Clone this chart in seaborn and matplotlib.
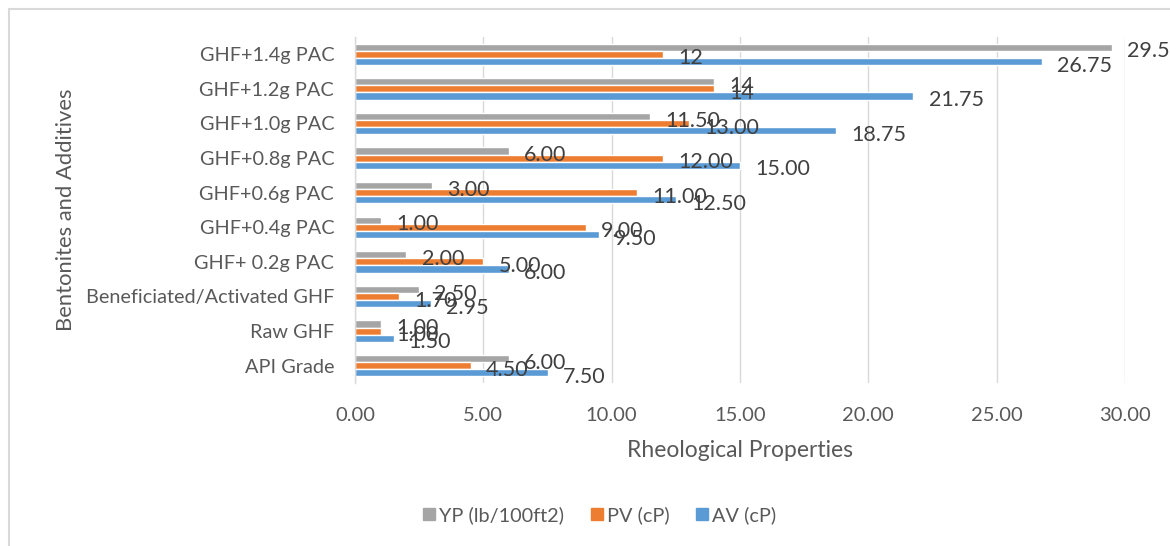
import matplotlib
matplotlib.use("Agg")
import matplotlib.pyplot as plt
import seaborn as sns
import pandas as pd
from matplotlib.lines import Line2D

categories = ["GHF+1.4g PAC", "GHF+1.2g PAC", "GHF+1.0g PAC", "GHF+0.8g PAC",
              "GHF+0.6g PAC", "GHF+0.4g PAC", "GHF+ 0.2g PAC",
              "Beneficiated/Activated GHF", "Raw GHF", "API Grade"]
series = ["YP (lb/100ft2)", "PV (cP)", "AV (cP)"]
yp = [29.5, 14, 11.5, 6, 3, 1, 2, 2.5, 1, 6]
pv = [12, 14, 13, 12, 11, 9, 5, 1.7, 1, 4.5]
av = [26.75, 21.75, 18.75, 15, 12.5, 9.5, 6, 2.95, 1.5, 7.5]
yp_labels = ["29.5", "14", "11.50", "6.00", "3.00", "1.00", "2.00", "2.50", "1.00", "6.00"]
pv_labels = ["12", "14", "13.00", "12.00", "11.00", "9.00", "5.00", "1.70", "1.00", "4.50"]
av_labels = ["26.75", "21.75", "18.75", "15.00", "12.50", "9.50", "6.00", "2.95", "1.50", "7.50"]
xticks = [0, 5, 10, 15, 20, 25, 30]

colors = {"YP (lb/100ft2)": "#A5A5A5", "PV (cP)": "#ED7D31", "AV (cP)": "#5B9BD5"}

df = pd.DataFrame({
    "Category": categories * 3,
    "Series": [series[0]] * 10 + [series[1]] * 10 + [series[2]] * 10,
    "Value": yp + pv + av,
})

sns.set_theme(style="white")
plt.rcParams["font.family"] = ["Lato", "DejaVu Sans"]
text_color = "#595959"

fig = plt.figure(figsize=(11.7, 5.46), dpi=100)
ax = fig.add_axes([355 / 1170, 1 - 383 / 546, (1125 - 355) / 1170, (383 - 37) / 546])

sns.barplot(data=df, y="Category", x="Value", hue="Series", order=categories,
            hue_order=series, palette=colors, orient="h", width=0.62,
            ax=ax, legend=False, saturation=1, errorbar=None)

all_labels = [yp_labels, pv_labels, av_labels]
for cont, labs in zip(ax.containers, all_labels):
    anns = ax.bar_label(cont, labels=labs, padding=11, fontsize=15.5, color="#404040")
    for a in anns:
        a.xyann = (a.xyann[0], -3)

ax.set_xlim(0, 30)
ax.set_xticks(xticks)
ax.set_xticklabels([f"{t:.2f}" for t in xticks])
ax.grid(axis="x", color="#D9D9D9", linewidth=1)
ax.set_axisbelow(True)
for s in ["top", "right", "bottom"]:
    ax.spines[s].set_visible(False)
ax.spines["left"].set_color("#D9D9D9")
ax.spines["left"].set_linewidth(1)
ax.tick_params(axis="x", length=0, labelsize=14.5, colors=text_color, pad=17)
ax.tick_params(axis="y", length=0, labelsize=14.3, colors=text_color, pad=15)
ax.set_xlabel("Rheological Properties", fontsize=16.5, color=text_color, labelpad=12)
ax.set_ylabel("Bentonites and Additives", fontsize=15.8, color=text_color, labelpad=7)

handles = [Line2D([0], [0], marker="s", linestyle="none", markersize=9,
                  markerfacecolor=colors[s], markeredgecolor=colors[s]) for s in series]
fig.legend(handles, series, loc="center", bbox_to_anchor=(598 / 1170, 1 - 515 / 546),
           ncol=3, frameon=False, fontsize=14.3, labelcolor=text_color,
           handletextpad=0.05, columnspacing=1.2, handlelength=0.9)

# outer frame
fig.add_artist(Line2D([8.5 / 1170, 8.5 / 1170], [0, 1 - 8.5 / 546], color="#D9D9D9",
                      linewidth=1.5, transform=fig.transFigure))
fig.add_artist(Line2D([8.5 / 1170, 1], [1 - 8.5 / 546, 1 - 8.5 / 546], color="#D9D9D9",
                      linewidth=1.5, transform=fig.transFigure))

fig.savefig("out.png", dpi=100)
